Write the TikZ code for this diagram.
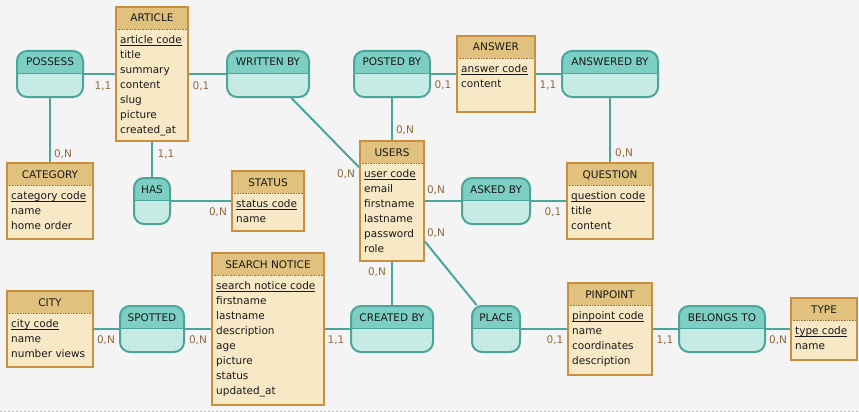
\documentclass[tikz,border=0pt]{standalone}
\usepackage{fontspec}
\setmainfont{DejaVu Sans}
\usetikzlibrary{calc}

\definecolor{canvas}{HTML}{F4F4F4}
\definecolor{enthead}{HTML}{E0C27E}
\definecolor{entbody}{HTML}{F7E9C6}
\definecolor{entline}{HTML}{C98E3E}
\definecolor{relhead}{HTML}{7ECFC3}
\definecolor{relbody}{HTML}{C6EAE4}
\definecolor{relline}{HTML}{4CA59B}
\definecolor{cardtext}{HTML}{8E6B3D}

\newcommand{\pkey}[1]{\setbox0\hbox{#1}\rlap{\rule[-2.6pt]{\wd0}{1.1pt}}\box0}

\tikzset{
	every node/.style={font=\fontsize{10.5}{15}\selectfont, text=black!90},
	entity/.style={draw=entline, line width=2pt, fill=entbody, inner sep=0,
		path picture={
			\fill[enthead] (path picture bounding box.north west) rectangle ([yshift=-22pt]path picture bounding box.north east);
			\draw[entline!80!black, densely dotted, line width=0.6pt] ([yshift=-22pt]path picture bounding box.north west) -- ([yshift=-22pt]path picture bounding box.north east);
		}},
	relation/.style={draw=relline, line width=2pt, fill=relbody, rounded corners=10pt, minimum height=46, inner sep=0,
		path picture={
			\fill[relhead, sharp corners] (path picture bounding box.north west) rectangle ([yshift=-22pt]path picture bounding box.north east);
			\draw[relline, sharp corners, line width=0.7pt] ([yshift=-22pt]path picture bounding box.north west) -- ([yshift=-22pt]path picture bounding box.north east);
		}},
	title/.style={anchor=base, inner sep=0},
	attr/.style={anchor=base west, inner sep=0},
	card/.style={inner sep=0, text=cardtext},
	link/.style={draw=relline, line width=2pt},
}

% entity box: name, centre, size, title, attributes (first one is the key)
\def\entity(#1)(#2)(#3,#4)#5#6{%
	\node[entity, minimum width=#3, minimum height=#4] (#1) at (#2) {};
	\node[title] (#1-t) at ([yshift=-16]#1.north) {#5};
	\foreach \a [count=\i] in {#6} {
		\node[attr] (#1-\i) at ([xshift=5, yshift={-37.5-15*(\i-1)}]#1.north west) {\ifnum\i=1 \pkey{\a}\else\a\fi};
	}
}
% relation box: name, centre, width, title
\def\relation(#1)(#2)(#3)#4{%
	\node[relation, minimum width=#3] (#1) at (#2) {};
	\node[title] (#1-t) at ([yshift=-16]#1.north) {#4};
}

\begin{document}
\begin{tikzpicture}[x=1pt, y=-1pt]
	%%%%% START %%%%%
	
	\fill[canvas] (0, 0) rectangle (859, 412);
	\useasboundingbox (0, 0) rectangle (859, 412);
	\draw[black!25, dash pattern=on 2pt off 2pt, line width=0.8pt] (0, 411) -- (859, 411);
	
	\entity(article)(152,74)(72,134){ARTICLE}{article code,title,summary,content,slug,picture,created\_at}
	\entity(category)(50,201)(86,76){CATEGORY}{category code,name,home order}
	\entity(status)(268,201)(72,60){STATUS}{status code,name}
	\entity(answer)(496,74)(78,76){ANSWER}{answer code,content}
	\entity(users)(392,201)(64,120){USERS}{user code,email,firstname,lastname,password,role}
	\entity(question)(610,201)(86,76){QUESTION}{question code,title,content}
	\entity(city)(50,329)(86,76){CITY}{city code,name,number views}
	\entity(search)(268,329)(112,152){SEARCH NOTICE}{search notice code,firstname,lastname,description,age,picture,status,updated\_at}
	\entity(pinpoint)(610,329)(84,92){PINPOINT}{pinpoint code,name,coordinates,description}
	\entity(type)(824,329)(66,62){TYPE}{type code,name}
	
	\relation(possess)(50,74)(66){POSSESS}
	\relation(written)(268,74)(82){WRITTEN BY}
	\relation(has)(152,201)(36){HAS}
	\relation(posted)(392,74)(76){POSTED BY}
	\relation(answered)(610,74)(96){ANSWERED BY}
	\relation(asked)(496,201)(68){ASKED BY}
	\relation(spotted)(152,329)(64){SPOTTED}
	\relation(created)(392,329)(82){CREATED BY}
	\relation(place)(496,329)(48){PLACE}
	\relation(belongs)(722,329)(86){BELONGS TO}
	
	% links
	\draw[link] (possess) -- (article);
	\draw[link] (possess) -- (category);
	\draw[link] (written) -- (article);
	\draw[link] (has) -- (article);
	\draw[link] (has) -- (status);
	\draw[link] (written) -- (users);
	\draw[link] (posted) -- (answer);
	\draw[link] (answered) -- (answer);
	\draw[link] (posted) -- (users);
	\draw[link] (answered) -- (question);
	\draw[link] (asked) -- (users);
	\draw[link] (asked) -- (question);
	\draw[link] (place) -- (users);
	\draw[link] (created) -- (users);
	\draw[link] (spotted) -- (city);
	\draw[link] (spotted) -- (search);
	\draw[link] (created) -- (search);
	\draw[link] (place) -- (pinpoint);
	\draw[link] (belongs) -- (pinpoint);
	\draw[link] (belongs) -- (type);
	
	% cardinalities
	\node[card] (c-possess-article) at (103, 86) {1,1};
	\node[card] (c-written-article) at (201, 86) {0,1};
	\node[card] (c-possess-category) at (63, 154) {0,N};
	\node[card] (c-has-article) at (166, 154) {1,1};
	\node[card] (c-has-status) at (218, 212) {0,N};
	\node[card] (c-written-users) at (346, 174) {0,N};
	\node[card] (c-posted-answer) at (443, 85) {0,1};
	\node[card] (c-answered-answer) at (548, 85) {1,1};
	\node[card] (c-posted-users) at (405, 130) {0,N};
	\node[card] (c-answered-question) at (624, 153) {0,N};
	\node[card] (c-asked-users) at (436, 190) {0,N};
	\node[card] (c-asked-question) at (553, 212) {0,1};
	\node[card] (c-place-users) at (436, 233) {0,N};
	\node[card] (c-created-users) at (377, 272) {0,N};
	\node[card] (c-spotted-city) at (106, 340) {0,N};
	\node[card] (c-spotted-search) at (198, 340) {0,N};
	\node[card] (c-created-search) at (336, 340) {1,1};
	\node[card] (c-place-pinpoint) at (555, 340) {0,1};
	\node[card] (c-belongs-pinpoint) at (665, 340) {1,1};
	\node[card] (c-belongs-type) at (778, 340) {0,N};
	
	%%%%% END %%%%%
\end{tikzpicture}
\end{document}
